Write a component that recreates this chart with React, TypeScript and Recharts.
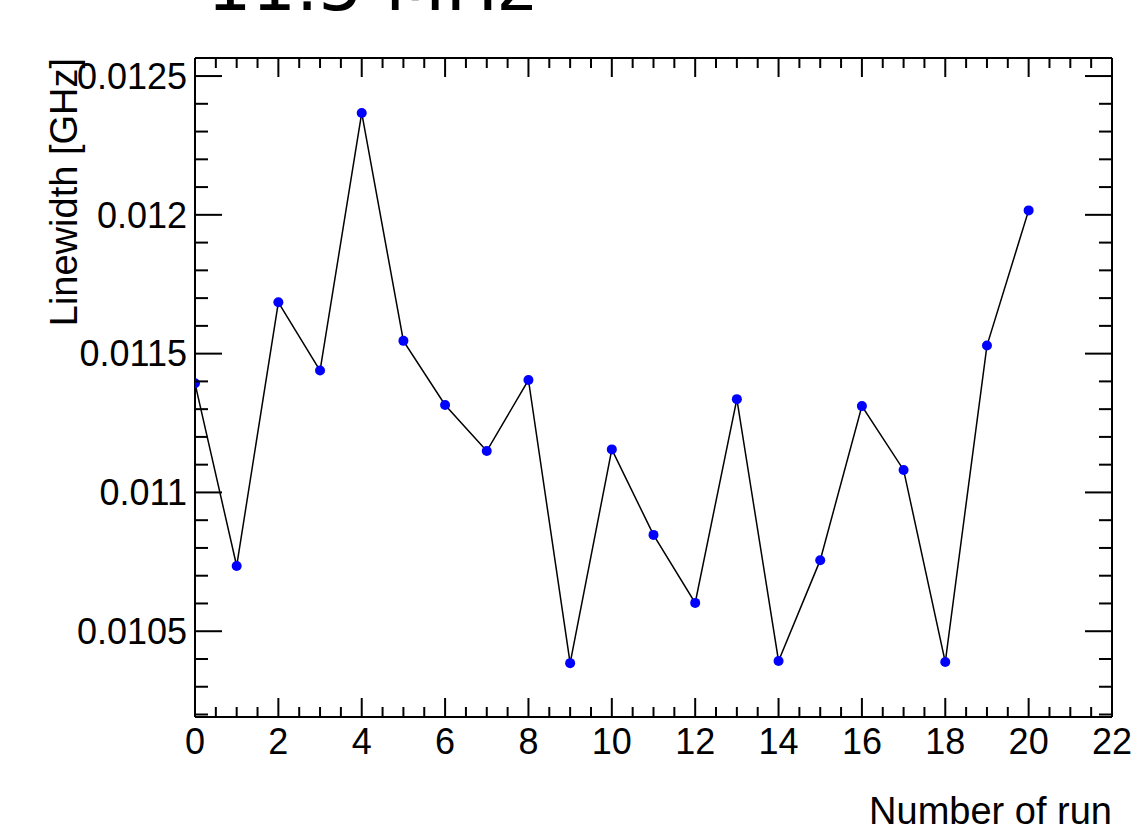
// LinewidthRuns.tsx
import React from "react";
import { LineChart, Line, XAxis, YAxis } from "recharts";

// run index
const runs = [0, 1, 2, 3, 4, 5, 6, 7, 8, 9, 10, 11, 12, 13, 14, 15, 16, 17, 18, 19, 20];
// linewidth per run [GHz]
const linewidths = [
  0.011393, 0.010735, 0.011685, 0.011439, 0.012367, 0.011546, 0.011315, 0.011149,
  0.011405, 0.010385, 0.011155, 0.010847, 0.010602, 0.011336, 0.010393, 0.010756,
  0.011311, 0.011081, 0.010389, 0.011529, 0.012016,
];

const xTicks = [
  0, 0.5, 1, 1.5, 2, 2.5, 3, 3.5, 4, 4.5, 5, 5.5, 6, 6.5, 7, 7.5, 8, 8.5, 9, 9.5, 10, 10.5,
  11, 11.5, 12, 12.5, 13, 13.5, 14, 14.5, 15, 15.5, 16, 16.5, 17, 17.5, 18, 18.5, 19, 19.5,
  20, 20.5, 21, 21.5, 22,
];
const yTicks = [
  0.0102, 0.0103, 0.0104, 0.0105, 0.0106, 0.0107, 0.0108, 0.0109, 0.011, 0.0111, 0.0112,
  0.0113, 0.0114, 0.0115, 0.0116, 0.0117, 0.0118, 0.0119, 0.012, 0.0121, 0.0122, 0.0123,
  0.0124, 0.0125,
];
const xDomain = [0, 22];
const yDomain = [0.010191, 0.012565];

const title = "11.5 MHz";
const xTitle = "Number of run";
const yTitle = "Linewidth [GHz]";

const data = runs.map((r, i) => ({ run: r, width: linewidths[i] }));

const FONT = "'Liberation Sans', Arial, Helvetica, sans-serif";

const isMajorX = (v: number) => v % 2 === 0;
const isMajorY = (v: number) => Math.abs(v * 2000 - Math.round(v * 2000)) < 1e-6;

// ROOT style ticks: drawn inside the frame, labels only on bottom/left
const XTick = (props: any) => {
  const { x, y, payload, side } = props;
  const v = payload.value as number;
  const len = isMajorX(v) ? 19 : 10;
  const dir = side === "top" ? 1 : -1;
  return (
    <g>
      <line x1={x} x2={x} y1={y} y2={y + dir * len} stroke="#000" strokeWidth={2} />
      {side === "bottom" && isMajorX(v) && (
        <text x={x} y={y + 37} textAnchor="middle" fontSize={36} fontFamily={FONT} fill="#000">
          {v}
        </text>
      )}
    </g>
  );
};

const YTick = (props: any) => {
  const { x, y, payload, side } = props;
  const v = payload.value as number;
  const len = isMajorY(v) ? 27 : 13;
  const dir = side === "left" ? 1 : -1;
  return (
    <g>
      <line x1={x} x2={x + dir * len} y1={y} y2={y} stroke="#000" strokeWidth={2} />
      {side === "left" && isMajorY(v) && (
        <text x={x - 8} y={y} dy="0.355em" textAnchor="end" fontSize={36} fontFamily={FONT} fill="#000">
          {String(v)}
        </text>
      )}
    </g>
  );
};

const App: React.FC = () => {
  return (
    <div>
      <style>{"body{margin:0;background:#fff}"}</style>
      <LineChart
        width={1138}
        height={837}
        data={data}
        margin={{ top: 57, right: 25, bottom: 0, left: 0 }}
      >
        <XAxis
          xAxisId="bottom"
          dataKey="run"
          type="number"
          domain={xDomain}
          ticks={xTicks}
          interval={0}
          allowDataOverflow
          orientation="bottom"
          height={120}
          tickSize={0}
          tickMargin={0}
          tickLine={false}
          axisLine={{ stroke: "#000", strokeWidth: 2 }}
          tick={<XTick side="bottom" />}
          label={{
            content: (p: any) => (
              <text
                x={p.viewBox.x + p.viewBox.width}
                y={p.viewBox.y + 107}
                textAnchor="end"
                fontSize={38}
                fontFamily={FONT}
                fill="#000"
              >
                {xTitle}
              </text>
            ),
          }}
        />
        <XAxis
          xAxisId="top"
          dataKey="run"
          type="number"
          domain={xDomain}
          ticks={xTicks}
          interval={0}
          allowDataOverflow
          orientation="top"
          height={1}
          tickSize={0}
          tickMargin={0}
          tickLine={false}
          axisLine={{ stroke: "#000", strokeWidth: 2 }}
          tick={<XTick side="top" />}
          label={{
            content: (p: any) => (
              <text
                x={p.viewBox.x + 12}
                y={p.viewBox.y - 47}
                textAnchor="start"
                fontSize={70}
                fontFamily="'DejaVu Sans', sans-serif"
                fill="#000"
              >
                {title}
              </text>
            ),
          }}
        />
        <YAxis
          yAxisId="left"
          type="number"
          domain={yDomain}
          ticks={yTicks}
          interval={0}
          allowDataOverflow
          orientation="left"
          width={195}
          tickSize={0}
          tickMargin={0}
          tickLine={false}
          axisLine={{ stroke: "#000", strokeWidth: 2 }}
          tick={<YTick side="left" />}
          label={{
            content: (p: any) => (
              <text
                x={77}
                y={p.viewBox.y}
                transform={`rotate(-90 77 ${p.viewBox.y})`}
                textAnchor="end"
                fontSize={38}
                fontFamily={FONT}
                fill="#000"
              >
                {yTitle}
              </text>
            ),
          }}
        />
        <YAxis
          yAxisId="right"
          type="number"
          domain={yDomain}
          ticks={yTicks}
          interval={0}
          allowDataOverflow
          orientation="right"
          width={1}
          tickSize={0}
          tickMargin={0}
          tickLine={false}
          axisLine={{ stroke: "#000", strokeWidth: 2 }}
          tick={<YTick side="right" />}
        />
        {/* invisible twin so the top/right frame axes get drawn */}
        <Line
          xAxisId="top"
          yAxisId="right"
          type="linear"
          dataKey="width"
          stroke="none"
          dot={false}
          activeDot={false}
          legendType="none"
          isAnimationActive={false}
        />
        <Line
          xAxisId="bottom"
          yAxisId="left"
          type="linear"
          dataKey="width"
          stroke="#000"
          strokeWidth={1.5}
          dot={{ r: 5, fill: "#0000ff", stroke: "none" }}
          activeDot={false}
          isAnimationActive={false}
        />
      </LineChart>
    </div>
  );
};

export default App;
